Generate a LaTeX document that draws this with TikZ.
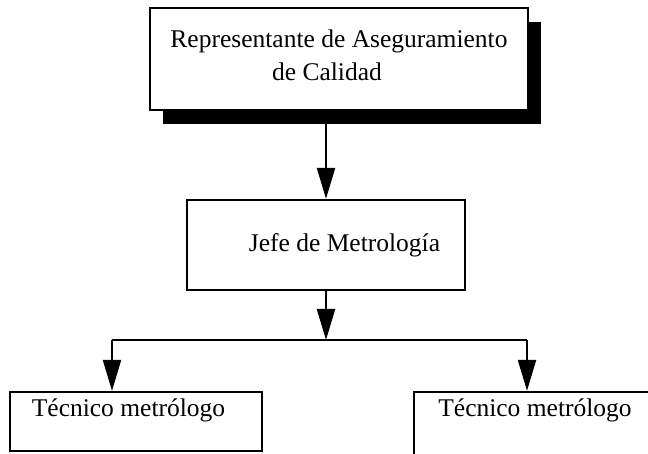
\documentclass[tikz,border=0pt]{standalone}
\usepackage{fontspec}
\setmainfont{Liberation Serif}
\usetikzlibrary{arrows.meta,shadows}
\begin{document}
\begin{tikzpicture}[x=1pt,y=-1pt,
  box/.style={draw=black,line width=2.3pt,fill=white,rectangle,inner sep=0pt},
  lbl/.style={font=\fontsize{25.5}{33}\selectfont,inner sep=0pt,align=center},
  link/.style={line width=2.3pt},
  arr/.style={line width=2.3pt,-{Triangle[length=31pt,width=18pt]}}]
\useasboundingbox (0,0) rectangle (648,454);
\clip (0,0) rectangle (648,454);
% boxes
\node[box,minimum width=378pt,minimum height=102pt,
  drop shadow={shadow xshift=13pt,shadow yshift=-14pt,opacity=1,fill=black}] (top) at (339,59) {};
\node[box,minimum width=278pt,minimum height=90pt] (mid) at (326,245) {};
\node[box,minimum width=252pt,minimum height=59pt] (left) at (136,421.5) {};
\node[box,minimum width=256pt,minimum height=78pt] (right) at (542,431) {};
% texts
\node[lbl] (ttop) at (339,55) {Representante de Aseguramiento\\de Calidad\hspace*{24pt}};
\node[lbl] (tmid) at (344.5,245) {Jefe de Metrología};
\node[lbl] (tleft) at (128.5,410) {Técnico metrólogo};
\node[lbl] (tright) at (535,410) {Técnico metrólogo};
% connectors
\coordinate (j) at (326,340);
\coordinate (jl) at (112,340);
\coordinate (jr) at (527,340);
\draw[arr] (top.south -| mid.north) -- (mid.north);
\draw[arr] (mid.south) -- (j);
\draw[link] (jl) -- (jr);
\draw[arr] (jl) -- (jl |- left.north);
\draw[arr] (jr) -- (jr |- right.north);
\end{tikzpicture}
\end{document}
